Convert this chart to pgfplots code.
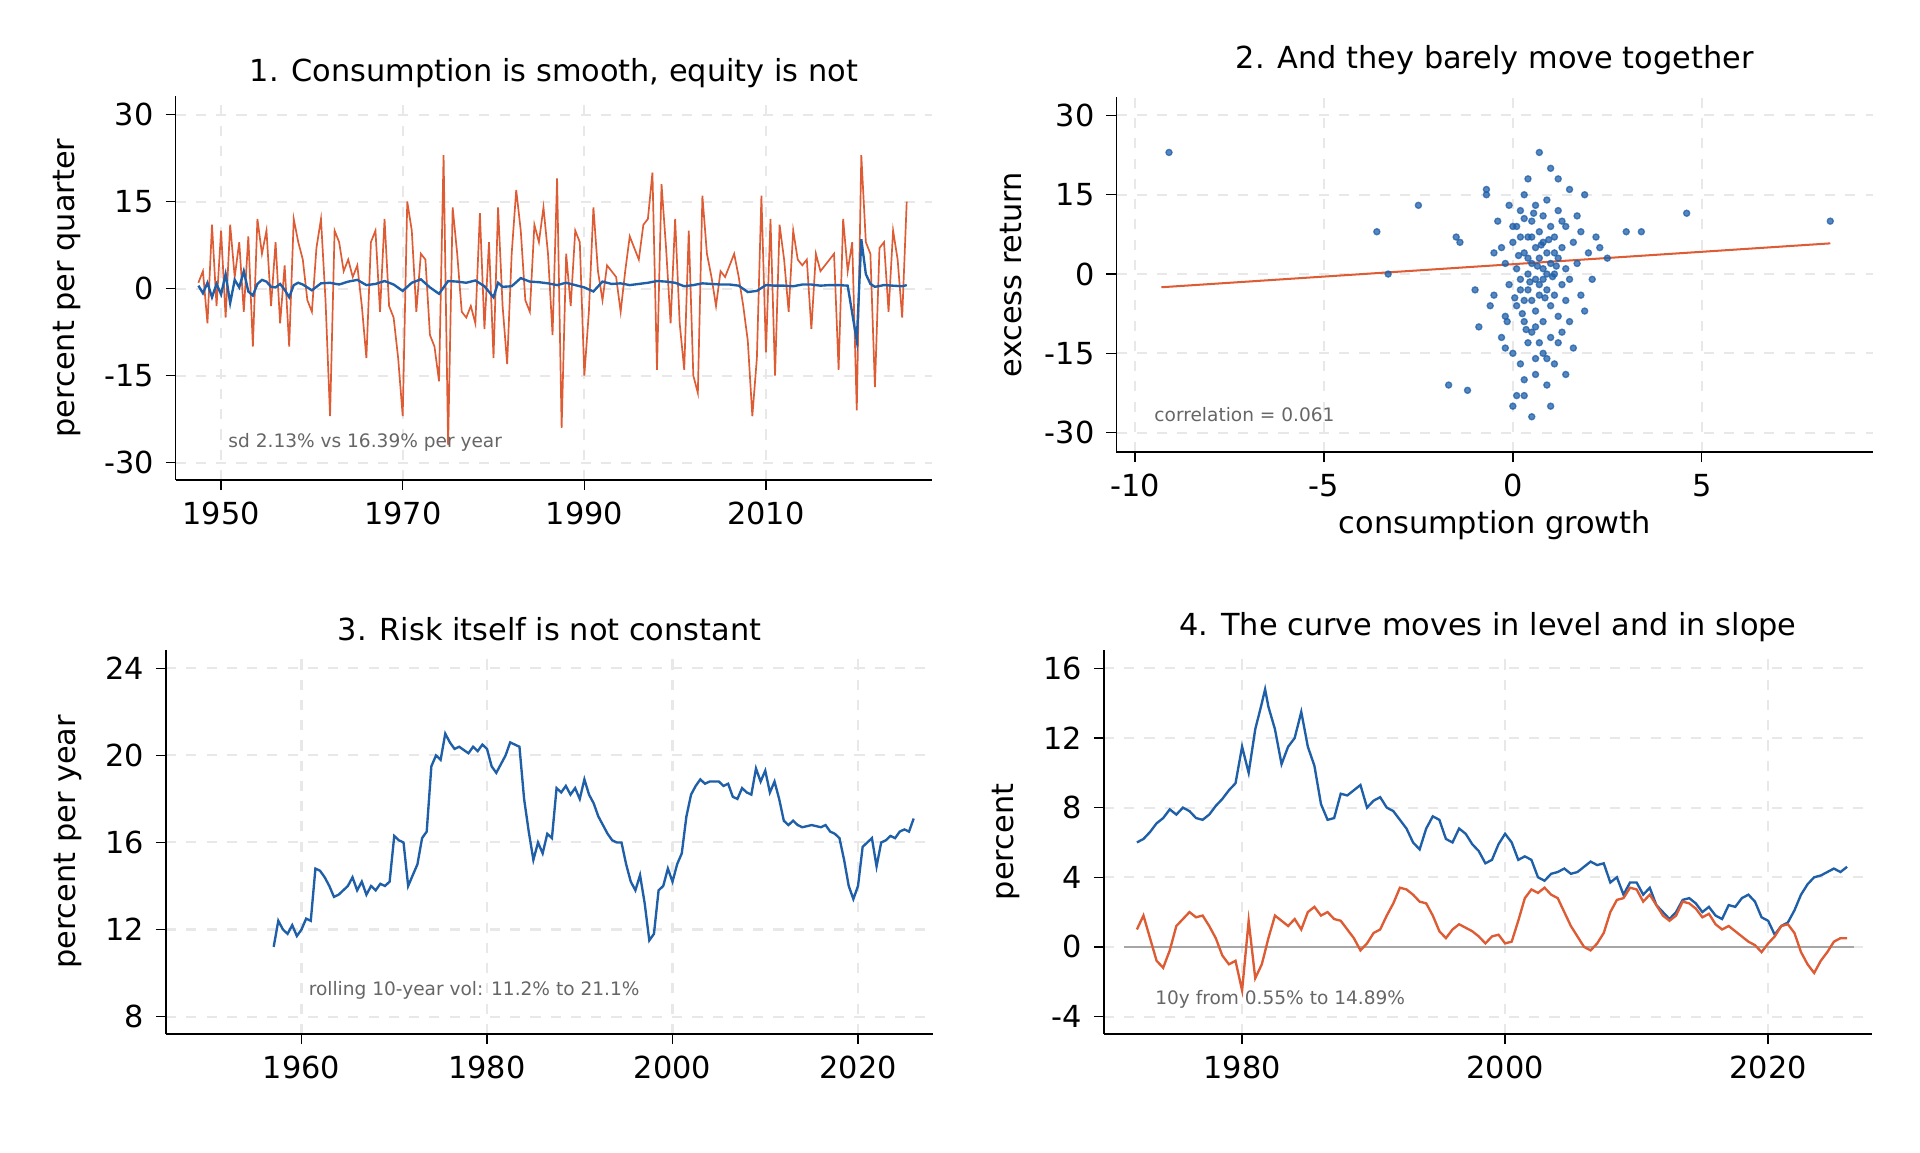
\documentclass[border=0pt]{standalone}
\usepackage{pgfplots}
\pgfplotsset{compat=1.18}
\usepackage{fontspec}
\setmainfont{DejaVu Sans}
\definecolor{cor}{RGB}{222,92,52}
\definecolor{cbl}{RGB}{31,95,168}
\pgfplotsset{pan/.style={scale only axis, axis lines*=left, tick align=outside,
 tick style={black, thin}, major tick length=3pt,
 grid=major, major grid style={dashed, gray!18, line width=0.6pt},
 /pgf/number format/assume math mode=true, /pgf/number format/1000 sep={},
 tick label style={font=\fontsize{9}{10}\selectfont},
 label style={font=\fontsize{9}{10}\selectfont},
 title style={font=\fontsize{9}{10}\selectfont, yshift=-7pt},
 anchor=south west}}
\begin{document}
\begin{tikzpicture}
\path (0,0) rectangle (20,12);
% Panel 1
\begin{axis}[pan, at={(1.83cm,7.0cm)}, width=7.88cm, height=4.0cm,
 xmin=1945, xmax=2028.3, ymin=-33, ymax=33.2, xtick={1950,1970,1990,2010},
 ytick={-30,-15,0,15,30}, ylabel={percent per quarter},
 title={1. Consumption is smooth, equity is not}]
\addplot[cor, line width=0.5pt] table {
1947.5 1
1948 3
1948.5 -6
1949 11
1949.5 -3
1950 10
1950.5 -5
1951 11
1951.5 2
1952 8
1952.5 -4
1953 9
1953.5 -10
1954 12
1954.5 6
1955 10
1955.5 -3
1956 8
1956.5 -6
1957 4
1957.5 -10
1958 12
1958.5 8
1959 5
1959.5 -2
1960 -4
1960.5 7
1961 12
1961.5 -2
1962 -22
1962.5 10
1963 8
1963.5 3
1964 5
1964.5 2
1965 4
1965.5 -3
1966 -12
1966.5 8
1967 10
1967.5 -4
1968 12
1968.5 -3
1969 -5
1969.5 -12
1970 -22
1970.5 15
1971 10
1971.5 -4
1972 6
1972.5 5
1973 -8
1973.5 -10
1974 -16
1974.5 23
1975 -27
1975.5 14
1976 6
1976.5 -4
1977 -5
1977.5 -3
1978 -6
1978.5 13
1979 -7
1979.5 8
1980 -12
1980.5 14
1981 -3
1981.5 -13
1982 6
1982.5 17
1983 10
1983.5 -2
1984 -4
1984.5 11
1985 8
1985.5 14
1986 6
1986.5 -8
1987 19
1987.5 -24
1988 6
1988.5 -3
1989 10
1989.5 8
1990 -15
1990.5 -4
1991 14
1991.5 3
1992 -2
1992.5 4
1993 3
1993.5 2
1994 -4
1994.5 3
1995 9
1995.5 7
1996 5
1996.5 11
1997 12
1997.5 20
1998 -14
1998.5 18
1999 7
1999.5 -6
2000 12
2000.5 -6
2001 -14
2001.5 10
2002 -15
2002.5 -18
2003 16
2003.5 6
2004 2
2004.5 -3
2005 3
2005.5 2
2006 4
2006.5 6
2007 2
2007.5 -3
2008 -9
2008.5 -22
2009 -12
2009.5 16
2010 -11
2010.5 12
2011 -15
2011.5 11
2012 5
2012.5 -4
2013 10
2013.5 5
2014 4
2014.5 5
2015 -7
2015.5 6
2016 3
2016.5 4
2017 5
2017.5 6
2018 -14
2018.5 12
2019 3
2019.5 8
2020 -21
2020.5 23
2021 8
2021.5 6
2022 -17
2022.5 7
2023 8
2023.5 -4
2024 10
2024.5 5
2025 -5
2025.5 15
};
\addplot[cbl, line width=0.7pt] table {
1947.5 0.5
1948 -0.8
1948.5 1.0
1949 -1.5
1949.5 0.8
1950 -1.0
1950.5 2.5
1951 -2.5
1951.5 1.5
1952 0.2
1952.5 3.0
1953 -0.5
1953.5 -1.2
1954 0.8
1954.5 1.5
1955 1.2
1955.5 0.3
1956 0.2
1956.5 0.8
1957 -0.2
1957.5 -1.5
1958 0.6
1958.5 1.0
1959 0.7
1960 -0.3
1961 0.9
1962 1.0
1963 0.7
1964 1.2
1965 1.5
1966 0.6
1967 0.8
1968 1.3
1969 0.7
1970 -0.4
1971 1.0
1972 1.6
1973 0.2
1974 -0.9
1975 1.3
1976 1.2
1977 1.0
1978 1.4
1979 0.4
1980 -1.5
1980.5 1.0
1981 0.3
1982 0.4
1983 1.8
1984 1.2
1985 1.1
1986 0.9
1987 0.6
1988 1.0
1989 0.6
1990 0.2
1991 -0.5
1992 1.2
1993 0.8
1994 0.9
1995 0.6
1996 0.8
1997 1.0
1998 1.3
1999 1.2
2000 1.0
2001 0.4
2002 0.6
2003 0.9
2004 0.8
2005 0.7
2006 0.7
2007 0.5
2008 -0.6
2009 -0.4
2010 0.6
2011 0.5
2012 0.5
2013 0.4
2014 0.7
2015 0.7
2016 0.5
2017 0.6
2018 0.6
2019 0.5
2020 -9.0
2020.5 8.5
2021 2.5
2021.5 0.8
2022 0.3
2023 0.6
2024 0.5
2025 0.4
2025.5 0.6
};
\node[anchor=west, gray!80!black, font=\fontsize{5.5}{6.5}\selectfont] at (axis cs:1949.5,-26.5) {sd 2.13\% vs 16.39\% per year};
\end{axis}
% Panel 2
\begin{axis}[pan, at={(11.63cm,7.29cm)}, width=7.88cm, height=3.7cm,
 xmin=-10.49, xmax=9.53, ymin=-33.7, ymax=33.5, xtick={-10,-5,0,5},
 ytick={-30,-15,0,15,30}, ylabel={excess return}, xlabel={consumption growth},
 xlabel style={yshift=3pt},
 title={2. And they barely move together}, title style={yshift=4pt}]
\addplot[only marks, mark=*, mark size=0.9pt, cbl, fill opacity=0.75, draw opacity=0.75] table {
-9.1 23
-3.3 0
-3.6 8
-2.5 13
4.6 11.5
8.4 10
3.0 8
3.4 8
-1.7 -21
-1.2 -22
-1.5 7
-1.4 6
-1.0 -3
-0.9 -10
-0.7 16
-0.7 15
-0.5 -4
-0.4 10
-0.3 5
-0.3 -12
-0.2 2
-0.2 -8
-0.1 13
-0.1 -2
0.0 6
0.0 -15
0.0 -25
0.1 1
0.1 -6
0.1 9
0.2 -17
0.2 12
0.2 -1
0.3 4
0.3 -9
0.3 15
0.3 -23
0.4 0
0.4 7
0.4 -3
0.4 -13
0.4 18
0.5 2
0.5 -5
0.5 10
0.5 -27
0.5 -11
0.6 5
0.6 -1
0.6 13
0.6 -7
0.6 -19
0.7 3
0.7 8
0.7 -4
0.7 23
0.7 -2
0.8 1
0.8 11
0.8 -9
0.8 -15
0.8 6
0.9 4
0.9 -3
0.9 14
0.9 -21
1.0 2
1.0 9
1.0 -6
1.0 -12
1.0 20
1.1 0
1.1 7
1.1 -17
1.1 -4
1.2 12
1.2 3
1.2 -8
1.2 18
1.3 5
1.3 -2
1.3 -11
1.4 9
1.4 1
1.4 -5
1.5 16
1.5 -1
1.5 -9
1.6 6
1.6 -14
1.7 11
1.7 2
1.8 -4
1.8 8
1.9 -7
1.9 15
2.0 4
2.1 -1
2.2 7
2.3 5
2.5 3
0.2 7
0.3 -5
0.6 -10
0.9 0
0.4 3
0.7 -13
1.1 4
0.2 -3
0.5 7
0.8 -1
0.0 9
1.3 10
-0.5 4
-0.6 -6
0.3 -20
0.9 -16
-0.2 -14
1.4 -19
0.1 -23
1.0 -25
0.15 3.5
0.45 -1.5
0.65 1.5
0.85 -4.5
0.25 -7.5
0.55 11.5
0.75 5.5
0.35 -10.5
1.05 -0.5
0.95 6.5
0.05 -4.5
1.15 1.5
-0.15 -9
0.6 -16
1.2 -13
0.3 10.5
};
\addplot[cor, line width=0.6pt] coordinates {(-9.3,-2.5) (8.4,5.8)};
\node[anchor=west, gray!80!black, font=\fontsize{5.5}{6.5}\selectfont] at (axis cs:-9.8,-26.5) {correlation = 0.061};
\end{axis}
% Panel 3
\begin{axis}[pan, at={(1.73cm,1.23cm)}, width=7.99cm, height=4.0cm,
 xmin=1945.4, xmax=2028.1, ymin=7.2, ymax=24.85, xtick={1960,1980,2000,2020},
 ytick={8,12,16,20,24}, ylabel={percent per year},
 title={3. Risk itself is not constant}]
\addplot[cbl, line width=0.7pt] table {
1957 11.2
1957.5 12.4
1958 12.0
1958.5 11.8
1959 12.2
1959.5 11.7
1960 12.0
1960.5 12.5
1961 12.4
1961.5 14.8
1962 14.7
1962.5 14.4
1963 14.0
1963.5 13.5
1964 13.6
1965 14.0
1965.5 14.4
1966 13.8
1966.5 14.2
1967 13.6
1967.5 14.0
1968 13.8
1968.5 14.1
1969 14.0
1969.5 14.2
1970 16.3
1970.5 16.1
1971 16.0
1971.5 14.0
1972 14.5
1972.5 15.0
1973 16.2
1973.5 16.5
1974 19.5
1974.5 20.0
1975 19.8
1975.5 21.0
1976 20.6
1976.5 20.3
1977 20.4
1978 20.1
1978.5 20.4
1979 20.2
1979.5 20.5
1980 20.3
1980.5 19.5
1981 19.2
1981.5 19.6
1982 20.0
1982.5 20.6
1983 20.5
1983.5 20.4
1984 18.0
1984.5 16.5
1985 15.2
1985.5 16.0
1986 15.5
1986.5 16.4
1987 16.2
1987.5 18.5
1988 18.3
1988.5 18.6
1989 18.2
1989.5 18.5
1990 18.0
1990.5 18.9
1991 18.2
1991.5 17.8
1992 17.2
1992.5 16.8
1993 16.4
1993.5 16.1
1994 16.0
1994.5 16.0
1995 15.0
1995.5 14.2
1996 13.8
1996.5 14.5
1997 13.2
1997.5 11.5
1998 11.8
1998.5 13.8
1999 14.0
1999.5 14.8
2000 14.2
2000.5 15.0
2001 15.5
2001.5 17.2
2002 18.2
2002.5 18.6
2003 18.9
2003.5 18.7
2004 18.8
2005 18.8
2005.5 18.6
2006 18.7
2006.5 18.1
2007 18.0
2007.5 18.5
2008 18.3
2008.5 18.2
2009 19.4
2009.5 18.8
2010 19.3
2010.5 18.3
2011 18.8
2011.5 18.0
2012 17.0
2012.5 16.8
2013 17.0
2013.5 16.8
2014 16.7
2015 16.8
2016 16.7
2016.5 16.8
2017 16.5
2017.5 16.4
2018 16.2
2018.5 15.2
2019 14.0
2019.5 13.4
2020 14.0
2020.5 15.8
2021 16.0
2021.5 16.2
2022 14.9
2022.5 16.0
2023 16.1
2023.5 16.3
2024 16.2
2024.5 16.5
2025 16.6
2025.5 16.5
2026 17.1
};
\node[anchor=west, gray!80!black, font=\fontsize{5.5}{6.5}\selectfont] at (axis cs:1959.5,9.2) {rolling 10-year vol: 11.2\% to 21.1\%};
\end{axis}
% Panel 4
\begin{axis}[pan, at={(11.5cm,1.23cm)}, width=8.0cm, height=4.0cm,
 xmin=1969.5, xmax=2027.9, ymin=-5, ymax=17.06, xtick={1980,2000,2020},
 ytick={-4,0,4,8,12,16}, ylabel={percent},
 title={4. The curve moves in level and in slope}]
\addplot[gray!70, line width=0.5pt] coordinates {(1971,0) (2026.5,0)};
\addplot[cbl, line width=0.7pt] table {
1972 6.0
1972.5 6.2
1973 6.6
1973.5 7.1
1974 7.4
1974.5 7.9
1975 7.6
1975.5 8.0
1976 7.8
1976.5 7.4
1977 7.3
1977.5 7.6
1978 8.1
1978.5 8.5
1979 9.0
1979.5 9.4
1980 11.5
1980.5 10.0
1981 12.5
1981.5 14.0
1981.75 14.8
1982 13.8
1982.5 12.5
1983 10.5
1983.5 11.5
1984 12.0
1984.5 13.5
1985 11.5
1985.5 10.4
1986 8.2
1986.5 7.3
1987 7.4
1987.5 8.8
1988 8.7
1988.5 9.0
1989 9.3
1989.5 8.0
1990 8.4
1990.5 8.6
1991 8.0
1991.5 7.8
1992 7.3
1992.5 6.8
1993 6.0
1993.5 5.6
1994 6.8
1994.5 7.5
1995 7.3
1995.5 6.2
1996 6.0
1996.5 6.8
1997 6.5
1997.5 5.9
1998 5.5
1998.5 4.8
1999 5.0
1999.5 5.9
2000 6.5
2000.5 6.0
2001 5.0
2001.5 5.2
2002 5.0
2002.5 4.0
2003 3.8
2003.5 4.2
2004 4.3
2004.5 4.5
2005 4.2
2005.5 4.3
2006 4.6
2006.5 4.9
2007 4.7
2007.5 4.8
2008 3.7
2008.5 4.0
2009 3.0
2009.5 3.7
2010 3.7
2010.5 3.0
2011 3.4
2011.5 2.4
2012 2.0
2012.5 1.6
2013 2.0
2013.5 2.7
2014 2.8
2014.5 2.5
2015 2.0
2015.5 2.3
2016 1.8
2016.5 1.6
2017 2.4
2017.5 2.3
2018 2.8
2018.5 3.0
2019 2.6
2019.5 1.7
2020 1.5
2020.5 0.7
2021 1.2
2021.5 1.4
2022 2.1
2022.5 3.0
2023 3.6
2023.5 4.0
2024 4.1
2024.5 4.3
2025 4.5
2025.5 4.3
2026 4.6
};
\addplot[cor, line width=0.7pt] table {
1972 1.0
1972.5 1.8
1973 0.5
1973.5 -0.8
1974 -1.2
1974.5 -0.2
1975 1.2
1975.5 1.6
1976 2.0
1976.5 1.7
1977 1.8
1977.5 1.2
1978 0.5
1978.5 -0.5
1979 -1.0
1979.5 -0.8
1980 -2.5
1980.5 1.5
1981 -1.8
1981.5 -1.0
1982 0.5
1982.5 1.8
1983 1.5
1983.5 1.2
1984 1.6
1984.5 1.0
1985 2.0
1985.5 2.3
1986 1.8
1986.5 2.0
1987 1.6
1987.5 1.5
1988 1.0
1988.5 0.5
1989 -0.2
1989.5 0.2
1990 0.8
1990.5 1.0
1991 1.8
1991.5 2.5
1992 3.4
1992.5 3.3
1993 3.0
1993.5 2.6
1994 2.5
1994.5 1.8
1995 0.9
1995.5 0.5
1996 1.0
1996.5 1.3
1997 1.1
1997.5 0.9
1998 0.6
1998.5 0.2
1999 0.6
1999.5 0.7
2000 0.2
2000.5 0.3
2001 1.5
2001.5 2.8
2002 3.3
2002.5 3.1
2003 3.4
2003.5 3.0
2004 2.8
2004.5 2.0
2005 1.2
2005.5 0.6
2006 0.0
2006.5 -0.2
2007 0.2
2007.5 0.8
2008 2.0
2008.5 2.7
2009 2.8
2009.5 3.4
2010 3.3
2010.5 2.6
2011 3.0
2011.5 2.4
2012 1.8
2012.5 1.5
2013 1.8
2013.5 2.6
2014 2.5
2014.5 2.2
2015 1.7
2015.5 1.9
2016 1.3
2016.5 1.0
2017 1.2
2017.5 0.9
2018 0.6
2018.5 0.3
2019 0.1
2019.5 -0.3
2020 0.2
2020.5 0.6
2021 1.2
2021.5 1.3
2022 0.8
2022.5 -0.3
2023 -1.0
2023.5 -1.5
2024 -0.8
2024.5 -0.3
2025 0.3
2025.5 0.5
2026 0.5
};
\node[anchor=west, gray!80!black, font=\fontsize{5.5}{6.5}\selectfont] at (axis cs:1972.5,-3.0) {10y from 0.55\% to 14.89\%};
\end{axis}
\end{tikzpicture}
\end{document}
